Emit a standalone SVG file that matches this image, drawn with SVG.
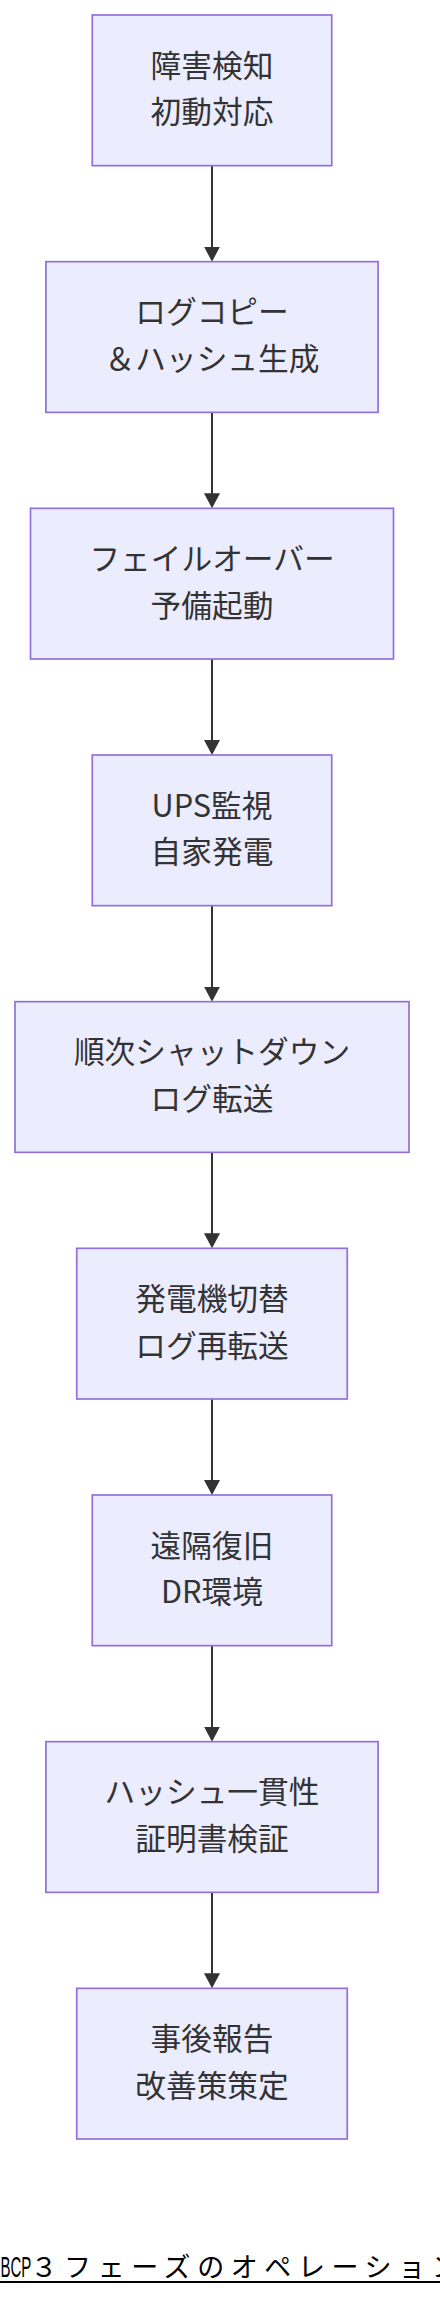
<svg xmlns="http://www.w3.org/2000/svg" width="440" height="2300" viewBox="0 0 440 2300">
<style>
.node rect{fill:#ECECFF;stroke:#9370DB;stroke-width:1.7px;}
.node text{font-family:"Noto Sans CJK JP","Noto Sans",sans-serif;font-size:30.7px;fill:#333333;text-anchor:middle;}
.edge{stroke:#333333;stroke-width:2px;fill:none;}
.title{fill:#000000;}
</style>
<defs>
<marker id="arrow" markerUnits="userSpaceOnUse" markerWidth="15" markerHeight="16" viewBox="0 0 15 16" refX="11" refY="8" orient="auto">
<path d="M0,0 L15,8 L0,16 z" fill="#333333"/>
</marker>
</defs>
<rect width="440" height="2300" fill="#ffffff"/>
<g id="connectors">
<path class="edge" d="M212,165.67 L212,257.67" marker-end="url(#arrow)"/>
<path class="edge" d="M212,412.33 L212,504.33" marker-end="url(#arrow)"/>
<path class="edge" d="M212,659 L212,751" marker-end="url(#arrow)"/>
<path class="edge" d="M212,905.67 L212,997.67" marker-end="url(#arrow)"/>
<path class="edge" d="M212,1152.33 L212,1244.33" marker-end="url(#arrow)"/>
<path class="edge" d="M212,1399 L212,1491" marker-end="url(#arrow)"/>
<path class="edge" d="M212,1645.67 L212,1737.67" marker-end="url(#arrow)"/>
<path class="edge" d="M212,1892.33 L212,1984.33" marker-end="url(#arrow)"/>
</g>
<g id="n1" class="node">
<rect x="92.25" y="15" width="239.5" height="150.67"/>
<text x="212" y="76.6">障害検知</text>
<text x="212" y="123.3">初動対応</text>
</g>
<g id="n2" class="node">
<rect x="45.9" y="261.67" width="332.2" height="150.67"/>
<text x="212" y="323.3">ログコピー</text>
<text x="212" y="370">＆ハッシュ生成</text>
</g>
<g id="n3" class="node">
<rect x="30.5" y="508.33" width="363" height="150.67"/>
<text x="212" y="570">フェイルオーバー</text>
<text x="212" y="616.7">予備起動</text>
</g>
<g id="n4" class="node">
<rect x="92.25" y="755" width="239.5" height="150.67"/>
<text x="212" y="816.6">UPS監視</text>
<text x="212" y="863.3">自家発電</text>
</g>
<g id="n5" class="node">
<rect x="15" y="1001.67" width="394" height="150.67"/>
<text x="212" y="1063.3">順次シャットダウン</text>
<text x="212" y="1110">ログ転送</text>
</g>
<g id="n6" class="node">
<rect x="76.75" y="1248.33" width="270.5" height="150.67"/>
<text x="212" y="1310">発電機切替</text>
<text x="212" y="1356.7">ログ再転送</text>
</g>
<g id="n7" class="node">
<rect x="92.25" y="1495" width="239.5" height="150.67"/>
<text x="212" y="1556.6">遠隔復旧</text>
<text x="212" y="1603.3">DR環境</text>
</g>
<g id="n8" class="node">
<rect x="45.9" y="1741.67" width="332.2" height="150.67"/>
<text x="212" y="1803.3">ハッシュ一貫性</text>
<text x="212" y="1850">証明書検証</text>
</g>
<g id="n9" class="node">
<rect x="76.75" y="1988.33" width="270.5" height="150.67"/>
<text x="212" y="2050">事後報告</text>
<text x="212" y="2096.7">改善策策定</text>
</g>
<g id="title">
<text class="title" transform="translate(0.5,2277) scale(0.5,1)" font-family="'Liberation Sans',sans-serif" font-size="30">BCP</text>
<text class="title" x="30.5" y="2277" font-family="'Noto Sans CJK JP',sans-serif" font-size="27" letter-spacing="6.6">３フェーズのオペレーション</text>
<rect x="0" y="2281" width="440" height="2" fill="#000000"/>
</g>
</svg>
